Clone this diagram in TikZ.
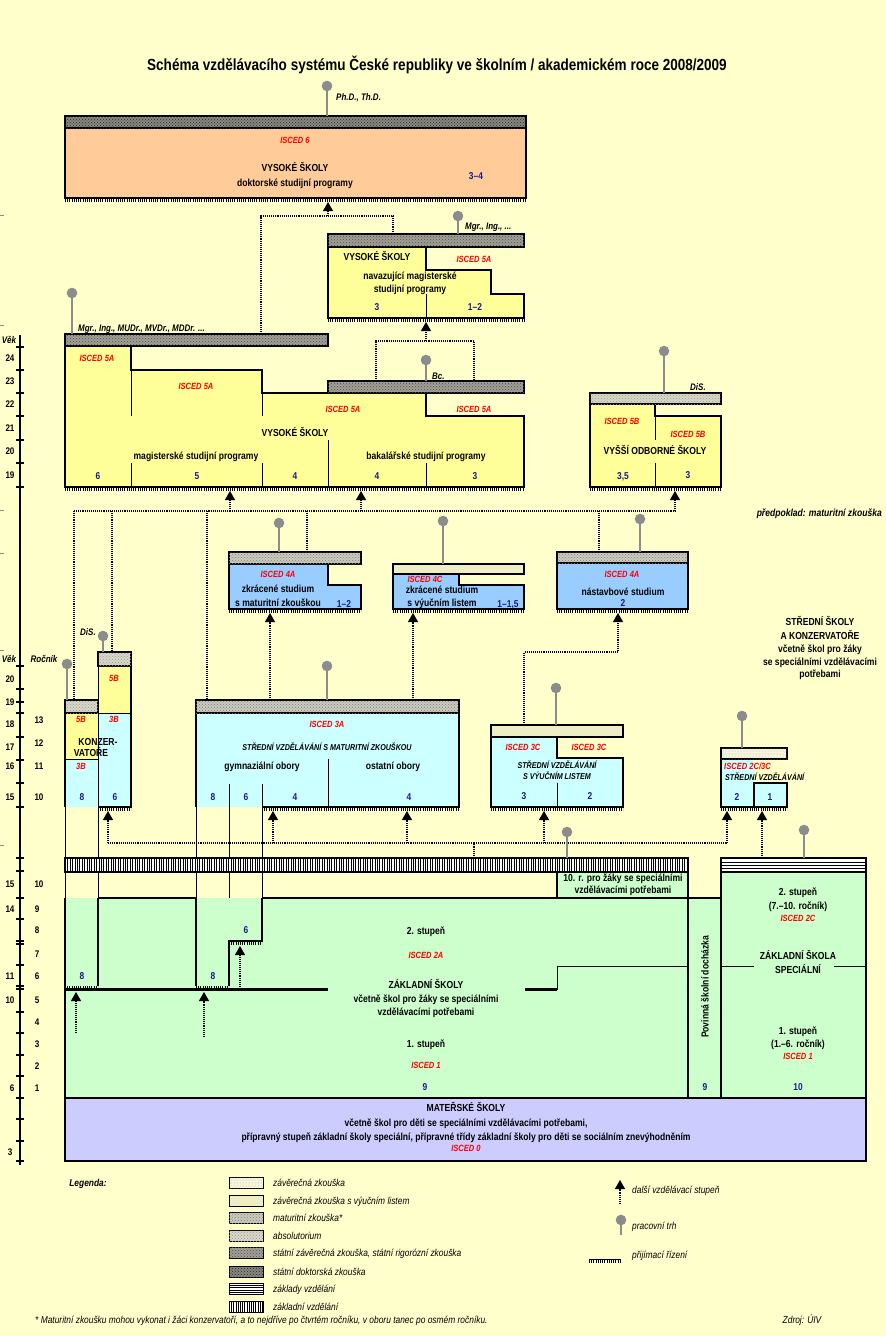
\documentclass[tikz,border=0pt]{standalone}
\usepackage{fontspec}
\setmainfont{Liberation Sans}[FakeStretch=0.84]
\usetikzlibrary{arrows.meta, patterns}
\definecolor{bgyellow}{HTML}{FFFFCC}
\definecolor{vsyellow}{HTML}{FFFF99}
\definecolor{doktpeach}{HTML}{FFCC99}
\definecolor{sscyan}{HTML}{CCFFFF}
\definecolor{nastblue}{HTML}{99CCFF}
\definecolor{zsgreen}{HTML}{CCFFCC}
\definecolor{mslav}{HTML}{CCCCFF}
\definecolor{iscedred}{HTML}{FF0000}
\definecolor{yrsblue}{HTML}{1A1A8C}
\definecolor{pingrey}{HTML}{8C8C8C}
\definecolor{hatchdark}{HTML}{A0A096}
\definecolor{hatchmid}{HTML}{CACABC}
\definecolor{hatchlight}{HTML}{D8D8C8}
\definecolor{vyuccol}{HTML}{EEEEC6}
\definecolor{zavcol}{HTML}{F6F6DC}
\tikzset{
  every picture/.style={line join=miter},
  every node/.style={inner sep=0pt, text depth=0pt},
  titlef/.style={font=\fontsize{16.1}{19}\selectfont\bfseries, text height=11.5pt},
  txt/.style={font=\fontsize{10.2}{12}\selectfont\bfseries, text height=7.3pt},
  capit/.style={font=\fontsize{8.5}{10}\selectfont\bfseries\itshape, text height=6.1pt},
  isced/.style={font=\fontsize{9}{11}\selectfont\bfseries\itshape, text=iscedred, text height=6.4pt},
  yrs/.style={font=\fontsize{10}{12}\selectfont\bfseries, text=yrsblue, text height=7.2pt},
  degree/.style={font=\fontsize{9.5}{11}\selectfont\bfseries\itshape, anchor=west, text height=6.8pt},
  axlab/.style={font=\fontsize{9.6}{11}\selectfont\bfseries, text height=6.9pt},
  axit/.style={font=\fontsize{9.6}{11}\selectfont\bfseries\itshape, text height=6.9pt},
  leg/.style={font=\fontsize{10}{12}\selectfont\itshape, anchor=west, text height=7.2pt},
  axisl/.style={line width=1.3pt},
  outl/.style={line width=2.2pt},
  divl/.style={line width=0.9pt},
  conn/.style={densely dotted, line width=1.1pt},
  arr/.style={conn, -{Triangle[length=9pt, width=10pt]}},
  stick/.style={draw=pingrey, line width=1.6pt},
  combl/.style={line width=2.6pt, dash pattern=on 0.9pt off 1.3pt},
  dokt/.style={fill=hatchdark!85!black, postaction={pattern=crosshatch dots, pattern color=black!85}},
  szz/.style={fill=hatchdark, postaction={pattern=crosshatch dots, pattern color=black!70}},
  matur/.style={fill=hatchmid, postaction={pattern=crosshatch dots, pattern color=black!50}},
  absol/.style={fill=hatchlight, postaction={pattern=crosshatch dots, pattern color=black!40}},
  vyuc/.style={fill=vyuccol},
  zavz/.style={fill=zavcol, postaction={pattern=dots, pattern color=black!30}},
}
\newcommand{\comb}[3]{\draw[combl] (#1,#3+2.4) -- (#2,#3+2.4);}
\newcommand{\pin}[3]{\draw[stick] (#1,#2) -- (#1,#3); \fill[pingrey] (#1,#2) circle[radius=5.3];}

\begin{document}
\begin{tikzpicture}[x=1pt, y=-1pt]
\useasboundingbox (0,0) rectangle (886,1336);
\fill[bgyellow] (0,0) rectangle (886,1336);
\node[titlef] (title) at (437,65) {Schéma vzdělávacího systému České republiky ve školním / akademickém roce 2008/2009};

% axis with age and grade
\draw[axisl] (20,335) -- (20,1165);
\foreach \yy in {347,370,393,416,440,463,487,666,689,702,713,737,760,783,807,858,871,898,919,941,944,965,986,989,1012,1033,1055,1076,1098,1119,1141,1161}
  \draw[axisl] (15.5,\yy) -- (23.5,\yy);
\foreach \yy in {215,325,510,553,650,845}
  \draw[pingrey, line width=0.8pt] (0,\yy) -- (4,\yy);
\node[axit] (vek1) at (9,340) {Věk};
\node[axit] (vek2) at (9,659) {Věk};
\node[axit] (rocnik) at (44,659) {Ročník};
\foreach \yy/\lab in {358/24,381/23,404/22,428/21,451/20,475/19,679/20,702/19,724/18,747/17,766/16,797/15,884/15,909/14,976/11,1000/10,1152/3}
  \node[axlab] (age\yy) at (10,\yy) {\lab};
\node[axlab] (age1088) at (12,1088) {6};
\foreach \yy/\lab in {720/13,743/12,766/11,797/10,884/10}
  \node[axlab] (gr\yy) at (39,\yy) {\lab};
\foreach \yy/\lab in {909/9,930/8,954/7,976/6,1000/5,1022/4,1044/3,1066/2,1088/1}
  \node[axlab] (gr\yy) at (37,\yy) {\lab};

% doctoral studies
\draw[outl, fill=doktpeach] (65,128) rectangle (526,198);
\comb{65}{526}{198}
\draw[outl, dokt] (65,116) rectangle (526,128);
\node[isced] (i6) at (295,140) {ISCED 6};
\node[txt] (vs6) at (295,168) {VYSOKÉ ŠKOLY};
\node[txt] (dsp) at (295,183) {doktorské studijní programy};
\node[yrs] (y6) at (476,176) {3–4};

% follow-up master programmes
\draw[outl, fill=vsyellow] (328,247) -- (426,247) -- (426,270) -- (491,270) -- (491,294) -- (524,294) -- (524,318) -- (328,318) -- cycle;
\comb{328}{524}{318}
\draw[divl] (426,294) -- (426,318);
\draw[outl, szz] (328,234) rectangle (524,247);
\node[txt] (vsn) at (377,257) {VYSOKÉ ŠKOLY};
\node[isced] (i5n) at (474,259) {ISCED 5A};
\node[txt] (nms1) at (410,276) {navazující magisterské};
\node[txt] (nms2) at (410,289) {studijní programy};
\node[yrs] (yn1) at (377,307) {3};
\node[yrs] (yn2) at (475,307) {1–2};

% master and bachelor programmes
\draw[outl, fill=vsyellow] (65,346) -- (131,346) -- (131,370) -- (262,370) -- (262,393) -- (426,393) -- (426,416) -- (524,416) -- (524,487) -- (65,487) -- cycle;
\comb{65}{524}{487}
\draw[divl] (131,370) -- (131,416) (131,463) -- (131,487)
  (262,393) -- (262,416) (262,463) -- (262,487)
  (328,440) -- (328,487) (426,463) -- (426,487);
\draw[outl, szz] (65,334) rectangle (328,346);
\draw[outl, szz] (328,381) rectangle (524,393);
\node[isced] (i5a) at (97,358) {ISCED 5A};
\node[isced] (i5b) at (196,386) {ISCED 5A};
\node[isced] (i5c) at (343,409) {ISCED 5A};
\node[isced] (i5d) at (474,409) {ISCED 5A};
\node[txt] (vs5) at (295,433) {VYSOKÉ ŠKOLY};
\node[txt] (msp) at (196,456) {magisterské studijní programy};
\node[txt] (bsp) at (426,456) {bakalářské studijní programy};
\foreach \xx/\lab in {98/6,197/5,295/4,377/4,475/3}
  \node[yrs] (y5\xx) at (\xx,476) {\lab};

% higher professional schools
\draw[outl, fill=vsyellow] (590,404) -- (655,404) -- (655,416) -- (721,416) -- (721,487) -- (590,487) -- cycle;
\comb{590}{721}{487}
\draw[divl] (655,416) -- (655,440) (655,463) -- (655,487);
\draw[outl, absol] (590,393) rectangle (721,404);
\node[isced] (i5v1) at (622,421) {ISCED 5B};
\node[isced] (i5v2) at (688,434) {ISCED 5B};
\node[txt] (vos) at (655,451) {VYŠŠÍ ODBORNÉ ŠKOLY};
\node[yrs] (yv1) at (623,476) {3,5};
\node[yrs] (yv2) at (688,475) {3};

% shortened and follow-up studies
\draw[outl, fill=nastblue] (229,564) -- (328,564) -- (328,585) -- (361,585) -- (361,609) -- (229,609) -- cycle;
\comb{229}{361}{609}
\draw[outl, matur] (229,552) rectangle (361,564);
\node[isced] (i4a) at (278,574) {ISCED 4A};
\node[txt] (zk1) at (278,589) {zkrácené studium};
\node[txt] (zk2) at (278,603) {s maturitní zkouškou};
\node[yrs] (y4a) at (344,604) {1–2};

\draw[outl, fill=nastblue] (393,574) -- (459,574) -- (459,585) -- (524,585) -- (524,609) -- (393,609) -- cycle;
\comb{393}{524}{609}
\draw[outl, vyuc] (393,564) rectangle (524,574);
\node[isced] (i4c) at (425,579) {ISCED 4C};
\node[txt] (zc1) at (442,590) {zkrácené studium};
\node[txt] (zc2) at (442,603) {s výučním listem};
\node[yrs] (y4c) at (508,604) {1–1,5};

\draw[outl, fill=nastblue] (557,563) rectangle (688,609);
\comb{557}{688}{609}
\draw[outl, matur] (557,552) rectangle (688,563);
\node[isced] (i4n) at (622,574) {ISCED 4A};
\node[txt] (nst) at (623,592) {nástavbové studium};
\node[yrs] (y4n) at (623,603) {2};

\node[txt, font=\fontsize{10.2}{12}\selectfont\bfseries\itshape, anchor=east] (predp) at (882,513) {předpoklad: maturitní zkouška};
\node[txt] (ssk1) at (820,622) {STŘEDNÍ ŠKOLY};
\node[txt] (ssk2) at (820,636) {A KONZERVATOŘE};
\node[txt] (ssk3) at (820,649) {včetně škol pro žáky};
\node[txt] (ssk4) at (820,662) {se speciálními vzdělávacími};
\node[txt] (ssk5) at (820,674) {potřebami};

% conservatoires
\fill[vsyellow] (98,666) rectangle (131,713);
\fill[vsyellow] (65,713) rectangle (98,759);
\fill[sscyan] (98,713) rectangle (131,807);
\fill[sscyan] (65,759) rectangle (98,807);
\draw[divl] (65,807) -- (65,898) (98,666) -- (98,898) (98,713) -- (131,713) (65,759) -- (98,759);
\comb{98}{131}{807}
\draw[outl] (65,713) -- (65,807);
\draw[outl] (98,807) -- (131,807) -- (131,666);
\draw[outl, absol] (65,700) rectangle (98,713);
\draw[outl, absol] (98,652) rectangle (131,666);
\node[isced] (k5b1) at (114,678) {5B};
\node[isced] (k5b2) at (81,719) {5B};
\node[isced] (k3b1) at (114,719) {3B};
\node[txt] (konz1) at (98,742) {KONZER-};
\node[txt] (konz2) at (91,753) {VATOŘE};
\node[isced] (k3b2) at (81,766) {3B};
\node[yrs] (yk1) at (82,797) {8};
\node[yrs] (yk2) at (115,797) {6};

% secondary with maturita
\fill[sscyan] (196,713) rectangle (459,807);
\draw[divl] (196,807) -- (196,898) (229,784) -- (229,898) (262,784) -- (262,898) (328,759) -- (328,807);
\comb{262}{459}{807}
\draw[outl] (196,713) -- (196,807) (262,807) -- (459,807) -- (459,713);
\draw[outl, matur] (196,700) rectangle (459,713);
\node[isced] (i3a) at (327,724) {ISCED 3A};
\node[capit] (ssm) at (327,747) {STŘEDNÍ VZDĚLÁVÁNÍ S MATURITNÍ ZKOUŠKOU};
\node[txt] (gym) at (262,766) {gymnaziální obory};
\node[txt] (ost) at (393,766) {ostatní obory};
\foreach \xx/\lab in {213/8,246/6,295/4,409/4}
  \node[yrs] (y3\xx) at (\xx,797) {\lab};

% secondary with apprenticeship certificate
\draw[outl, fill=sscyan] (491,737) -- (557,737) -- (557,758) -- (623,758) -- (623,807) -- (491,807) -- cycle;
\comb{491}{623}{807}
\draw[divl] (557,783) -- (557,807);
\draw[outl, vyuc] (491,725) rectangle (623,737);
\node[isced] (i3c1) at (523,747) {ISCED 3C};
\node[isced] (i3c2) at (589,747) {ISCED 3C};
\node[capit] (ssv1) at (557,765) {STŘEDNÍ VZDĚLÁVÁNÍ};
\node[capit] (ssv2) at (557,776) {S VÝUČNÍM LISTEM};
\node[yrs] (y3c1) at (524,796) {3};
\node[yrs] (y3c2) at (590,796) {2};

% secondary 2C/3C
\fill[sscyan] (721,759) rectangle (754,807);
\fill[sscyan] (754,783) rectangle (787,807);
\comb{721}{787}{807}
\draw[outl] (721,759) -- (721,807) -- (787,807) -- (787,783) -- (754,783) -- (754,807);
\draw[outl, zavz] (721,748) rectangle (787,759);
\node[isced, anchor=west] (i2c3c) at (724,766) {ISCED 2C/3C};
\node[capit, anchor=west] (ssz) at (725,777) {STŘEDNÍ VZDĚLÁVÁNÍ};
\node[yrs] (y2c1) at (737,797) {2};
\node[yrs] (y2c2) at (770,797) {1};

% basic schools
\fill[zsgreen] (65,898) rectangle (688,1098);
\fill[zsgreen] (557,872) rectangle (688,898);
\fill[zsgreen] (688,898) rectangle (721,1098);
\fill[zsgreen] (721,872) rectangle (866,1098);
\comb{229}{262}{941}
\comb{65}{98}{984.5}
\comb{196}{229}{984.5}
\draw[outl] (98,898) -- (196,898) (262,898) -- (688,898);
\draw[outl] (98,898) -- (98,986);
\draw[outl] (196,898) -- (196,986) (229,986) -- (229,941) -- (262,941) -- (262,898);
\draw[outl] (65,989.5) -- (328,989.5) (525,989.5) -- (557,989.5);
\draw[divl] (557,989.5) -- (557,966) -- (688,966);
\draw[outl] (65,898) -- (65,1098) -- (688,1098) -- (688,858);
\draw[outl] (557,872) -- (557,898);
\fill[white] (65,858) rectangle (688,872);
\draw[line width=14pt, dash pattern=on 1pt off 1.4pt] (65,865) -- (688,865);
\draw[outl] (65,858) rectangle (688,872);
\node[txt] (r10a) at (623,878) {10. r. pro žáky se speciálními};
\node[txt] (r10b) at (623,890) {vzdělávacími potřebami};
\node[txt] (zs2) at (426,931) {2. stupeň};
\node[isced] (i2a) at (426,955) {ISCED 2A};
\node[txt] (zs) at (426,985) {ZÁKLADNÍ ŠKOLY};
\node[txt] (zsa) at (426,999) {včetně škol pro žáky se speciálními};
\node[txt] (zsb) at (426,1012) {vzdělávacími potřebami};
\node[txt] (zs1) at (426,1044) {1. stupeň};
\node[isced] (i1) at (426,1065) {ISCED 1};
\node[yrs] (yzs) at (425,1087) {9};
\node[yrs] (yk8) at (82,976) {8};
\node[yrs] (yg8) at (213,976) {8};
\node[yrs] (yg6) at (246,930) {6};

% compulsory schooling
\draw[outl] (688,898) -- (721,898);
\node[txt, rotate=90] (povinna) at (705,987) {Povinná školní docházka};
\node[yrs] (ypov) at (705,1087) {9};

% special basic school
\draw[divl] (721,966) -- (754,966) (834,966) -- (866,966);
\draw[outl] (721,858) rectangle (866,1098);
\fill[white] (721,858) rectangle (866,872);
\foreach \yy in {862,865,868}
  \draw[line width=1pt] (721,\yy) -- (866,\yy);
\draw[outl] (721,858) rectangle (866,872);
\node[txt] (zss1) at (798,892) {2. stupeň};
\node[txt] (zss2) at (798,906) {(7.–10. ročník)};
\node[isced] (i2cs) at (798,918) {ISCED 2C};
\node[txt] (zss3) at (798,956) {ZÁKLADNÍ ŠKOLA};
\node[txt] (zss4) at (798,970) {SPECIÁLNÍ};
\node[txt] (zss5) at (798,1031) {1. stupeň};
\node[txt] (zss6) at (798,1044) {(1.–6. ročník)};
\node[isced] (i1s) at (798,1056) {ISCED 1};
\node[yrs] (yzss) at (798,1087) {10};

% nursery schools
\draw[outl, fill=mslav] (65,1098) rectangle (866,1161);
\node[txt] (ms1) at (466,1108) {MATEŘSKÉ ŠKOLY};
\node[txt] (ms2) at (466,1123) {včetně škol pro děti se speciálními vzdělávacími potřebami,};
\node[txt] (ms3) at (466,1137) {přípravný stupeň základní školy speciální, přípravné třídy základní školy pro děti se sociálním znevýhodněním};
\node[isced] (i0) at (466,1148) {ISCED 0};

% connectors
\coordinate (dokt-in) at (328,202);
\coordinate (mgr-out) at (261,334);
\coordinate (nav-out) at (393,234);
\coordinate (j1) at (261,216);
\draw[conn] (mgr-out) -- (j1) -| (nav-out);
\draw[arr] (dokt-in |- j1) -- (dokt-in);

\coordinate (nav-in) at (426,322);
\coordinate (bc-out1) at (376,381);
\coordinate (bc-out2) at (474,381);
\coordinate (j2) at (376,341);
\draw[conn] (bc-out1) -- (j2) -| (bc-out2);
\draw[arr] (nav-in |- j2) -- (nav-in);

\coordinate (j3) at (74,511);
\coordinate (vos-in) at (675,491);
\coordinate (mag-in) at (230,491);
\coordinate (bak-in) at (361,491);
\coordinate (konzL-out) at (74,700);
\coordinate (konzR-out) at (112,652);
\coordinate (ss-out) at (207,700);
\coordinate (zk4a-out) at (307,552);
\coordinate (nast-out) at (599,552);
\draw[arr] (j3) -| (vos-in);
\draw[arr] (mag-in |- j3) -- (mag-in);
\draw[arr] (bak-in |- j3) -- (bak-in);
\draw[conn] (j3) -- (konzL-out);
\foreach \c in {konzR-out, ss-out, zk4a-out, nast-out}
  \draw[conn] (\c |- j3) -- (\c);

\coordinate (zk4a-in) at (270,613);
\coordinate (zk4c-in) at (413,613);
\draw[arr] (zk4a-in |- ss-out) -- (zk4a-in);
\draw[arr] (zk4c-in |- ss-out) -- (zk4c-in);
\coordinate (c3-out) at (524,725);
\coordinate (j4) at (524,652);
\coordinate (nast-in) at (618,613);
\draw[arr] (c3-out) -- (j4) -| (nast-in);

\coordinate (zs-out) at (474,858);
\coordinate (j5) at (474,843);
\coordinate (konz-in) at (108,811);
\coordinate (gym4-in) at (273,811);
\coordinate (ost-in) at (407,811);
\coordinate (c3-in) at (544,811);
\coordinate (ss2L-in) at (727,811);
\coordinate (zss-out) at (762,858);
\coordinate (ss2R-in) at (762,811);
\draw[conn] (zs-out) -- (j5);
\draw[conn] (konz-in |- j5) -- (ss2L-in |- j5);
\foreach \c in {konz-in, gym4-in, ost-in, c3-in, ss2L-in}
  \draw[arr] (\c |- j5) -- (\c);
\draw[arr] (zss-out) -- (ss2R-in);

\coordinate (kz8-src) at (76,1033);
\coordinate (kz8-in) at (76,992);
\coordinate (gy8-src) at (204,1037);
\coordinate (gy8-in) at (204,992);
\coordinate (gy6-src) at (240,987);
\coordinate (gy6-in) at (240,946);
\draw[arr] (kz8-src) -- (kz8-in);
\draw[arr] (gy8-src) -- (gy8-in);
\draw[arr] (gy6-src) -- (gy6-in);

% labour market
\pin{327}{86}{116}
\node[degree] (phd) at (336,97) {Ph.D., Th.D.};
\pin{458}{216}{234}
\node[degree] (mgr1) at (465,226) {Mgr., Ing., ...};
\pin{72}{293}{334}
\node[degree] (mgr2) at (78,328) {Mgr., Ing., MUDr., MVDr., MDDr. ...};
\pin{426}{360}{381}
\node[degree] (bc) at (432,376) {Bc.};
\pin{664}{351}{393}
\node[degree] (dis1) at (690,387) {DiS.};
\pin{279}{523}{552}
\pin{443}{521}{564}
\pin{640}{519}{552}
\pin{67}{664}{700}
\pin{103}{636}{652}
\node[degree] (dis2) at (80,632) {DiS.};
\pin{327}{666}{700}
\pin{556}{688}{725}
\pin{742}{716}{748}
\pin{567}{832}{858}
\pin{804}{830}{858}

% legend
\node[leg, font=\fontsize{10}{12}\selectfont\bfseries\itshape, anchor=center] (legenda) at (88,1183) {Legenda:};
\foreach \yy/\sty/\txt in {1183/zavz/{závěrečná zkouška}, 1201/vyuc/{závěrečná zkouška s výučním listem}, 1218/matur/{maturitní zkouška*}, 1236/absol/{absolutorium}, 1253/szz/{státní závěrečná zkouška, státní rigorózní zkouška}, 1272/dokt/{státní doktorská zkouška}}
{
  \draw[divl, \sty] (229,\yy-5.5) rectangle (263,\yy+5.5);
  \node[leg] (leg\yy) at (273,\yy) {\txt};
}
\fill[white] (229,1283.5) rectangle (263,1294.5);
\foreach \yy in {1285,1287.5,1290,1292.5}
  \draw[line width=0.9pt] (229,\yy) -- (263,\yy);
\draw[divl] (229,1283.5) rectangle (263,1294.5);
\node[leg] (leg1289) at (273,1289) {základy vzdělání};
\fill[white] (229,1301.5) rectangle (263,1312.5);
\draw[line width=11pt, dash pattern=on 0.9pt off 1.3pt] (229,1307) -- (263,1307);
\draw[divl] (229,1301.5) rectangle (263,1312.5);
\node[leg] (leg1307) at (273,1307) {základní vzdělání};

\coordinate (legarr-a) at (620,1204);
\coordinate (legarr-b) at (620,1180);
\draw[arr] (legarr-a) -- (legarr-b);
\node[leg] (legarr) at (632,1190) {další vzdělávací stupeň};
\pin{621}{1220}{1235}
\node[leg] (legpin) at (632,1226) {pracovní trh};
\draw[divl] (589,1259) -- (621,1259);
\comb{589}{621}{1259}
\node[leg] (legcomb) at (632,1255) {přijímací řízení};

\node[leg] (foot) at (35,1320) {* Maturitní zkoušku mohou vykonat i žáci konzervatoří, a to nejdříve po čtvrtém ročníku, v oboru tanec po osmém ročníku.};
\node[leg, anchor=center] (zdroj) at (802,1320) {Zdroj: ÚIV};
\end{tikzpicture}
\end{document}
